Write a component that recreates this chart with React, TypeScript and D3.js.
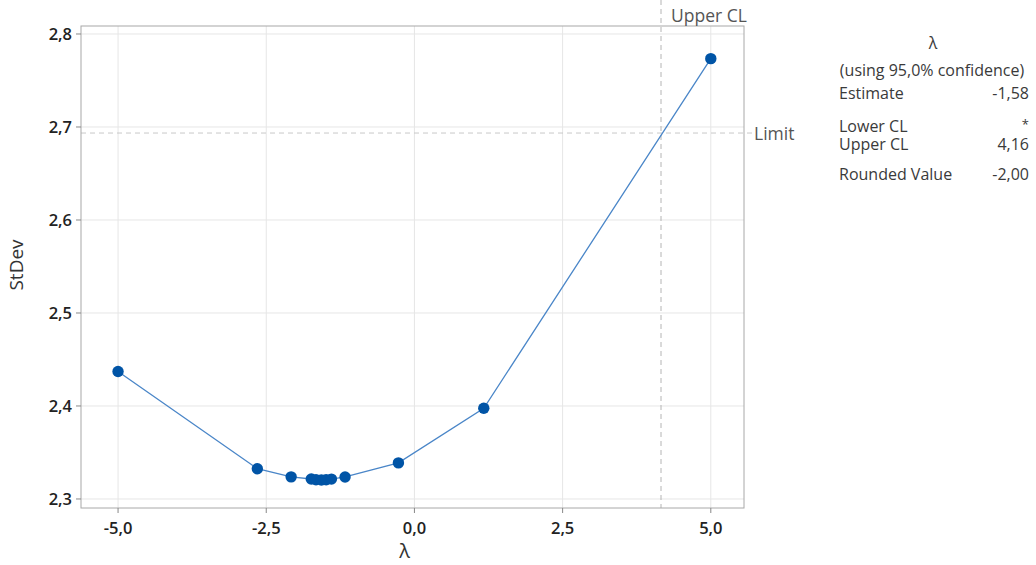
import { scaleLinear, line } from 'd3'

const width = 1036
const height = 565

const margin = { top: 26, right: 292, bottom: 57, left: 81 }

// Box-Cox search points (lambda, StDev)
const lambdas = [-5.0, -2.65, -2.08, -1.74, -1.66, -1.57, -1.49, -1.40, -1.17, -0.27, 1.17, 5.0]
const stdevs = [2.437, 2.3325, 2.3238, 2.3215, 2.3207, 2.3204, 2.3207, 2.3214, 2.3237, 2.3388, 2.3975, 2.7735]

const xTicks = [-5, -2.5, 0, 2.5, 5]
const yTicks = [2.3, 2.4, 2.5, 2.6, 2.7, 2.8]

const upperCL = 4.16
const limit = 2.6935

const statLabels = ['Estimate', 'Lower CL', 'Upper CL', 'Rounded Value']
const statValues = ['-1,58', '*', '4,16', '-2,00']
const statRows = [99, 132, 150, 180]

const fmt = (v: number) => v.toFixed(1).replace('.', ',')

function App() {
  const innerWidth = width - margin.left - margin.right
  const innerHeight = height - margin.top - margin.bottom

  const xScale = scaleLinear().domain([-5.625, 5.56]).range([0, innerWidth])
  const yScale = scaleLinear().domain([2.2903, 2.8086]).range([innerHeight, 0])

  const data = lambdas.map((l, i) => ({ l, s: stdevs[i] }))
  const path = line<{ l: number; s: number }>()
    .x(d => xScale(d.l))
    .y(d => yScale(d.s))(data)

  const font = '"Open Sans", "Noto Sans", sans-serif'

  return (
    <svg width={width} height={height} style={{ position: 'absolute', left: 0, top: 0, fontFamily: font }}>
      <rect width={width} height={height} fill="#fff" />
      <g transform={`translate(${margin.left},${margin.top})`}>
        {xTicks.map(t => (
          <line key={'gx' + t} x1={xScale(t)} x2={xScale(t)} y1={0} y2={innerHeight} stroke="#e6e6e6" />
        ))}
        {yTicks.map(t => (
          <line key={'gy' + t} x1={0} x2={innerWidth} y1={yScale(t)} y2={yScale(t)} stroke="#e6e6e6" />
        ))}

        <line x1={xScale(upperCL)} x2={xScale(upperCL)} y1={-26} y2={innerHeight} stroke="#b4b4b4" strokeDasharray="5,4" />
        <line x1={0} x2={innerWidth + 8} y1={yScale(limit)} y2={yScale(limit)} stroke="#c8c8c8" strokeDasharray="5,4" />

        <rect x={0} y={0} width={innerWidth} height={innerHeight} fill="none" stroke="#a8a8a8" />

        <path d={path ?? ''} fill="none" stroke="#4a86c8" strokeWidth={1.3} />
        {data.map((d, i) => (
          <circle key={i} cx={xScale(d.l)} cy={yScale(d.s)} r={5.7} fill="#0054a6" />
        ))}

        {xTicks.map(t => (
          <g key={'tx' + t} transform={`translate(${xScale(t)},${innerHeight})`}>
            <line y1={0} y2={5} stroke="#888" />
            <text y={26} textAnchor="middle" fontSize={16.5} fontWeight={600} fill="#222">{fmt(t)}</text>
          </g>
        ))}
        {yTicks.map(t => (
          <g key={'ty' + t} transform={`translate(0,${yScale(t)})`}>
            <line x1={-5} x2={0} stroke="#888" />
            <text x={-9} dy="0.36em" textAnchor="end" fontSize={16.5} fontWeight={600} fill="#222">{fmt(t)}</text>
          </g>
        ))}

        <text x={innerWidth / 2 - 8} y={innerHeight + 50} textAnchor="middle" fontSize={20} fill="#333">λ</text>
        <text transform={`translate(${-58},${innerHeight / 2 - 2}) rotate(-90)`} textAnchor="middle" fontSize={19} fill="#333">StDev</text>

        <text x={xScale(upperCL) + 10} y={-4} fontSize={17.5} fill="#555">Upper CL</text>
        <text x={innerWidth + 10} y={yScale(limit) + 7} fontSize={17.5} fill="#555">Limit</text>
      </g>

      <g fontSize={16} fontWeight={500} fill="#3a3a3a">
        <text x={933} y={49} textAnchor="middle">λ</text>
        <text x={932} y={76} textAnchor="middle">(using 95,0% confidence)</text>
        {statLabels.map((s, i) => (
          <text key={s} x={839} y={statRows[i]}>{s}</text>
        ))}
        {statValues.map((v, i) => (
          <text key={'v' + i} x={1029} y={v === '*' ? statRows[i] - 3 : statRows[i]} fontSize={v === '*' ? 13 : undefined} textAnchor="end">{v}</text>
        ))}
      </g>
    </svg>
  )
}

export default App
